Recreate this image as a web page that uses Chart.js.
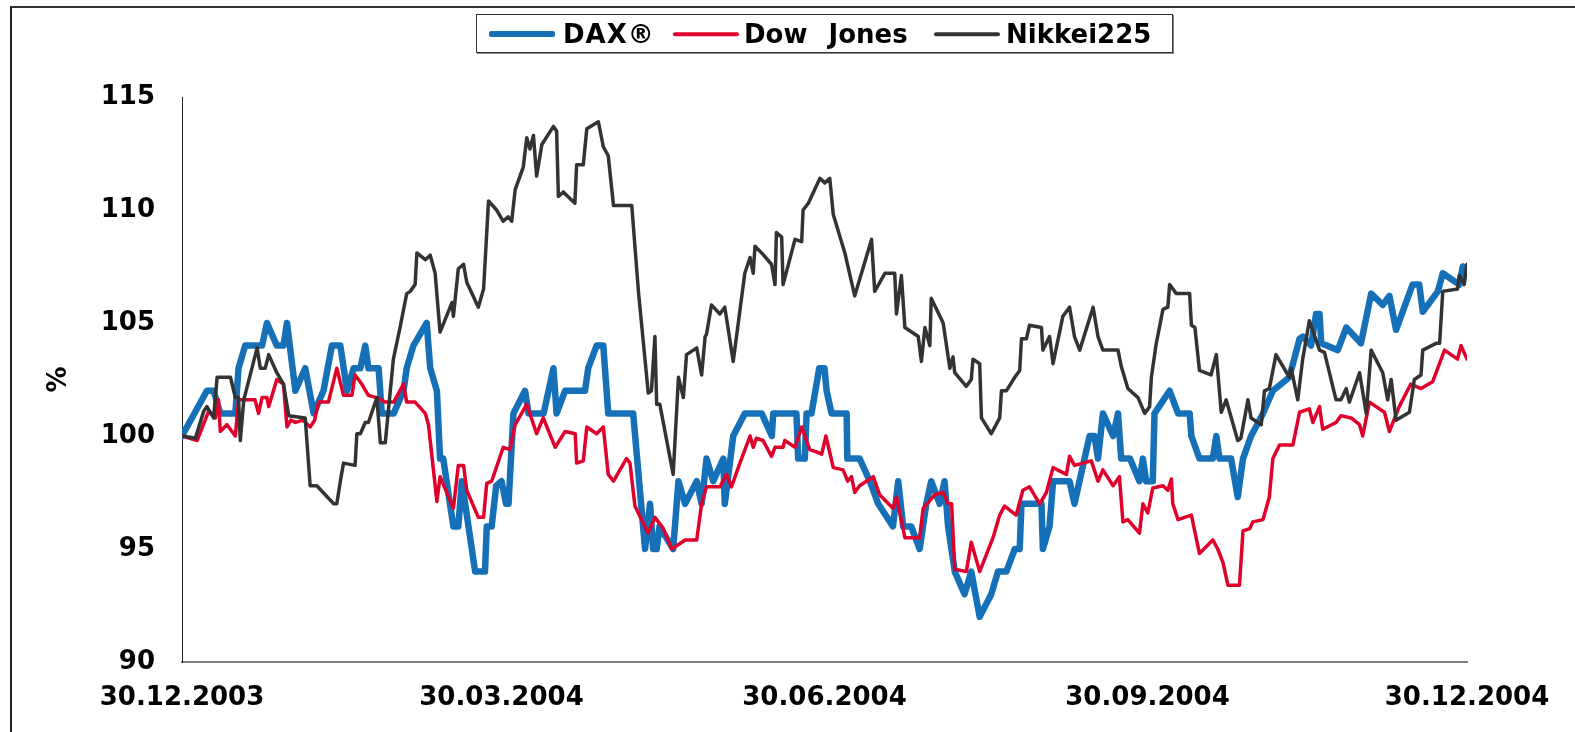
<!DOCTYPE html>
<html lang="de">

<head>
    <meta charset="UTF-8">
    <title>DAX, Dow Jones, Nikkei225 2004</title>
    <script src="https://cdn.jsdelivr.net/npm/chart.js"></script>
    <style>
        * {
            margin: 0;
            padding: 0;
            box-sizing: border-box;
        }

        body {
            width: 1575px;
            height: 732px;
            background: #fff;
            overflow: hidden;
            position: relative;
            font-family: 'DejaVu Sans', sans-serif;
        }

        .frame {
            position: absolute;
            left: 10px;
            top: 6px;
            width: 1600px;
            height: 800px;
            border-top: 2px solid #333;
            border-left: 2px solid #222;
        }

        #chart {
            position: absolute;
            left: 0;
            top: 0;
        }

        .legend {
            position: absolute;
            left: 476px;
            top: 14px;
            width: 697px;
            height: 39px;
            border: 1px solid #333;
            box-shadow: 1px 1px 0 #888;
            background: #fff;
        }

        .legend .swatch {
            position: absolute;
            top: 19px;
            width: 66px;
            transform: translateY(-50%);
            border-radius: 2px;
        }

        .legend .label {
            position: absolute;
            top: 3px;
            font-weight: bold;
            font-size: 26px;
            line-height: 32px;
            color: #000;
            white-space: nowrap;
        }
    </style>
</head>

<body>
    <div class="frame"></div>
    <canvas id="chart" width="1575" height="732"></canvas>
    <div class="legend">
        <span class="swatch" style="left:12px;height:6px;background:#1570b8"></span>
        <span class="label" style="left:86px;letter-spacing:1px">DAX®</span>
        <span class="swatch" style="left:196px;height:3.5px;background:#e0002c"></span>
        <span class="label" style="left:267px;word-spacing:12px">Dow Jones</span>
        <span class="swatch" style="left:457px;height:3.5px;background:#333"></span>
        <span class="label" style="left:529px">Nikkei225</span>
    </div>

    <script>
        // x = days since 30.12.2003, y = index (30.12.2003 = 100)
        const daxDays = [0, 7.1, 9, 10.9, 15.2, 16.1, 18, 22.8, 24.2, 27, 28.9, 29.9, 32.3, 35.1, 37.5, 40.3, 42.7, 45.1, 47, 48.9, 50.8, 52.2, 53.1, 56, 56.9, 60.3, 63.1, 64, 65.9, 69.7, 70.7, 72.6, 73.5, 74.4, 77.3, 78.7, 79.7, 83.5, 86.3, 86.8, 88.2, 89.5, 91, 92.3, 93, 94.4, 97.7, 98.7, 103, 105.8, 106.7, 109.1, 114.8, 115.7, 118.1, 120, 121.4, 128.5, 131.9, 133.3, 134.2, 135.2, 136, 139.9, 141.4, 143.3, 146.6, 148, 149.4, 151.3, 154.2, 154.6, 157, 160.3, 165.1, 168, 168.4, 175, 175.5, 177.4, 177.9, 179.3, 181.5, 183, 183.6, 185, 189.3, 189.5, 193, 195.9, 198.3, 202.5, 204, 205.4, 207.7, 210.1, 212, 213.4, 215.8, 217.2, 218.2, 220.1, 222.9, 224.8, 227.2, 230.5, 232.4, 234.8, 237.2, 238.6, 239.1, 244.8, 245.2, 247.1, 248.1, 252.8, 254.2, 258.5, 259.9, 260.9, 262.3, 265.2, 266.6, 267.5, 270, 272.7, 273.7, 274.6, 276.5, 277, 281.3, 283.7, 287, 287.5, 289.8, 293.6, 294.6, 295.5, 298.8, 300.7, 302.2, 304.5, 307.9, 310.7, 315.4, 318.3, 319.2, 321.6, 323, 324, 324.5, 329.2, 331.6, 335.8, 338.7, 342, 343.9, 345.8, 350.5, 352.4, 353.4, 357.7, 359.1, 363.8, 364.8, 366];
        const daxValues = [100, 102, 102, 101, 101, 103, 104, 104, 105, 104, 104, 105, 102, 103, 101, 102, 104, 104, 102, 103, 103, 104, 103, 103, 101, 101, 102, 103, 104, 105, 103, 102, 99, 99, 96, 96, 98, 94, 94, 96, 96, 97.8, 98, 97, 97, 101, 102, 101, 101, 103, 101, 102, 102, 103, 104, 104, 101, 101, 95, 97, 95, 95, 96, 95, 98, 97, 98, 97, 99, 98, 99, 97, 100, 101, 101, 100, 101, 101, 99, 99, 101, 101, 103, 103, 102, 101, 101, 99, 99, 98, 97, 96, 98, 96, 96, 95, 97, 98, 97, 98, 96, 94, 93, 94, 92, 93, 94, 94, 95, 95, 97, 97, 95, 96, 98, 98, 97, 100, 100, 99, 101, 100, 101, 99, 99, 98, 99, 98, 98, 101, 102, 101, 101, 100, 99, 99, 100, 99, 99, 97.3, 99, 100, 101, 102, 102.6, 104.3, 104.4, 104, 105.4, 105.4, 104.1, 103.8, 104.8, 104.1, 106.3, 105.8, 106.2, 104.7, 106.7, 106.7, 105.5, 106.4, 107.2, 106.7, 107.5, 107.3];

        const dowDays = [0, 4.3, 7.6, 9.5, 10.4, 10.9, 12.8, 15.2, 16.1, 20.8, 21.8, 22.8, 24.2, 24.7, 27, 28.9, 29.9, 31, 32.3, 34.5, 36.5, 37.8, 38.9, 41.7, 44.1, 46, 48.4, 49.3, 51.2, 53.1, 55.5, 57.9, 60.3, 63.1, 64, 66.4, 69.3, 70.2, 72.6, 73.5, 77.3, 78.7, 80.2, 81.1, 84.4, 85.9, 86.8, 88.2, 91.5, 93.4, 94.9, 98.2, 101, 102.9, 106.3, 109.1, 112, 112.4, 114.3, 115.3, 118.1, 120, 121.4, 122.9, 126.6, 127.6, 129, 132.8, 134.7, 137.1, 139.5, 141.4, 143.3, 146.6, 148, 149.4, 153.2, 155.1, 156.5, 158.9, 161.8, 162.7, 163.6, 165.5, 167.9, 168.9, 171.2, 171.7, 174.6, 176.5, 178.8, 180.7, 182.2, 183.4, 185.5, 188.3, 189.6, 190.7, 191.6, 193, 196.9, 198.7, 202.5, 203.5, 205.9, 210.1, 211.1, 214.4, 216.8, 218.2, 219.2, 220.1, 223.4, 224.8, 227.2, 231, 232.9, 234.3, 237.6, 239.5, 241.4, 244.3, 246.2, 248.1, 251.9, 252.8, 254.2, 259, 260.9, 262.3, 265.2, 267, 268, 269.4, 272.7, 273.7, 275.1, 276.5, 279.4, 280.8, 281.8, 282.2, 283.7, 287.5, 289.8, 293.6, 295, 296.5, 297.9, 301.2, 302.2, 304.1, 305, 307.9, 309.7, 310.7, 312.6, 316.4, 318.3, 321.1, 322.1, 324, 324.9, 328.7, 330.1, 333, 335.4, 336.3, 338.2, 342.5, 343.9, 346.7, 350, 352.9, 356.2, 359.6, 363.3, 364.3, 366];
        const dowValues = [100, 99.8, 101.1, 100.8, 101.6, 100.2, 100.5, 100, 101.6, 101.6, 101, 101.7, 101.7, 101.3, 102.5, 102.3, 100.4, 100.7, 100.6, 100.7, 100.4, 100.7, 101.5, 101.5, 103, 101.8, 101.8, 102.7, 102.3, 101.8, 101.7, 101.5, 101.5, 102.3, 101.5, 101.5, 101, 100.5, 97.1, 98.2, 96.8, 98.7, 98.7, 97.6, 96.4, 96.4, 97.9, 98, 99.5, 99.4, 100.5, 101.4, 100.1, 100.8, 99.5, 100.2, 100.1, 98.8, 98.9, 100.4, 100.1, 100.4, 98.3, 98, 99, 98.8, 96.9, 95.7, 96.4, 95.9, 95, 95.2, 95.4, 95.4, 97, 97.75, 97.75, 98.3, 97.75, 98.8, 100, 99.5, 99.9, 99.8, 99.1, 99.5, 99.5, 99.8, 99.5, 100.4, 99.4, 99.3, 99.2, 100, 98.6, 98.5, 98, 98.2, 97.5, 97.8, 98.2, 97.4, 96.8, 97.3, 95.5, 95.5, 96.8, 97.4, 97.5, 97, 97, 94.1, 94, 95.3, 94, 95.5, 96.5, 96.9, 96.5, 97.6, 97.75, 97, 97.5, 98.6, 98.3, 99.1, 98.7, 98.9, 98, 98.5, 97.8, 98.2, 96.2, 96.3, 95.7, 97, 96.6, 97.7, 97.8, 97.6, 98.1, 97, 96.3, 96.5, 94.8, 95.4, 95, 94.4, 93.4, 93.4, 95.8, 95.9, 96.2, 96.3, 97.3, 99, 99.6, 99.6, 101.05, 101.2, 100.6, 101.3, 100.3, 100.6, 100.9, 100.8, 100.5, 100, 101.5, 101.05, 100.2, 101.3, 102.3, 102.1, 102.4, 103.8, 103.4, 104, 103.4];

        const nikkeiDays = [0, 3.8, 6.2, 7.1, 9, 10, 13.8, 15.2, 16.1, 16.6, 17.6, 21.4, 22.3, 23.7, 24.7, 27, 28.9, 30.4, 35.1, 36.5, 38.4, 43.2, 44.1, 45.1, 46, 49.3, 49.8, 50.8, 52.2, 53.1, 55.5, 56.5, 57.9, 60.2, 62.1, 64, 65, 66.4, 66.9, 69.3, 70.7, 72.1, 73.5, 76.9, 77.3, 78.7, 80.2, 81.1, 84.4, 85.9, 87.3, 89.6, 91.5, 92.9, 93.9, 94.9, 97.2, 98.2, 99.1, 100.1, 101, 102.5, 105.8, 106.7, 107.2, 108.6, 111.9, 112.4, 114.3, 115.3, 118.6, 120, 121.4, 122.9, 128.1, 130, 132.8, 133.7, 134.7, 135.2, 136.1, 139.9, 141.4, 142.8, 143.7, 146.6, 148, 149, 149.4, 150.8, 153.2, 154.6, 157, 160.3, 161.8, 162.7, 163.2, 165.1, 167.9, 168.9, 169.3, 170.8, 171.2, 174.6, 176.5, 176.9, 178.4, 181.7, 183.1, 184.5, 185.5, 188.8, 191.6, 196.4, 197.3, 200.2, 203, 203.5, 204.9, 205.9, 209.7, 210.6, 211.6, 213, 213.4, 216.8, 218.7, 219.6, 220.1, 223.4, 224.8, 225.3, 227.2, 227.7, 230.5, 232.9, 233.4, 234.8, 237.2, 238.6, 239.1, 240.5, 241.4, 244.8, 245.2, 247.1, 248.1, 250.9, 252.8, 254.2, 255.7, 259.5, 260.9, 262.3, 266.6, 267.5, 269.4, 272.3, 274.2, 275.6, 276.1, 277.5, 279.4, 280.8, 281.3, 283.2, 287, 287.5, 288.5, 289.8, 293.1, 294.6, 296, 297.4, 300.7, 301.6, 303.6, 304.5, 307.4, 308.3, 309.7, 311.6, 315.4, 315.9, 317.8, 319.2, 321.1, 324, 325.4, 328.7, 330.1, 331.6, 332.5, 335.4, 337.3, 338.7, 342, 343.4, 344.4, 345.8, 349.6, 351, 352.9, 353.4, 357.2, 358.2, 359.1, 363.3, 363.8, 365.2, 366];
        const nikkeiValues = [100, 99.9, 101.1, 101.3, 100.8, 102.6, 102.6, 101.7, 101.7, 99.8, 101.6, 103.9, 103, 103, 103.6, 102.8, 102.3, 100.9, 100.8, 97.8, 97.8, 97, 97, 98, 98.8, 98.7, 100.1, 100.1, 100.6, 100.6, 101.7, 99.7, 99.7, 103.4, 104.8, 106.3, 106.4, 106.7, 108.1, 107.8, 108, 107.2, 104.6, 105.9, 105.3, 107.4, 107.6, 106.8, 105.7, 106.5, 110.4, 110, 109.5, 109.7, 109.5, 110.9, 111.9, 113.2, 112.7, 113.3, 111.5, 112.9, 113.7, 113.5, 110.6, 110.8, 110.3, 112, 112, 113.6, 113.9, 112.8, 112.4, 110.2, 110.2, 106.4, 101.9, 102, 104.4, 101.4, 101.4, 98.3, 102.6, 101.7, 103.6, 103.9, 102.7, 104.4, 104.5, 105.8, 105.4, 105.7, 103.3, 107.2, 107.9, 107.2, 108.4, 108.1, 107.6, 106.7, 109, 108.8, 106.7, 108.7, 108.6, 110, 110.3, 111.4, 111.2, 111.4, 109.8, 108.1, 106.2, 108.7, 106.4, 107.2, 107.2, 105.4, 107.1, 104.8, 104.4, 103.3, 104.8, 104, 106.1, 105, 103, 103.5, 102.8, 102.2, 102.5, 103.4, 103.2, 100.8, 100.1, 100.8, 102, 102, 102.6, 102.9, 104.3, 104.3, 104.9, 104.8, 103.8, 104.4, 103.2, 105.3, 105.7, 104.4, 103.8, 105.7, 104.4, 103.8, 103.8, 103.1, 102.1, 101.7, 101, 101.3, 102.6, 104.1, 105.6, 105.7, 106.7, 106.3, 106.3, 104.9, 104.8, 102.9, 102.7, 103.6, 101.05, 101.6, 99.8, 99.9, 101.6, 100.8, 100.5, 102, 102.1, 103.6, 102.6, 103, 101.6, 103.4, 105.1, 103.8, 103.7, 101.6, 101.6, 102.1, 101.5, 102.8, 101, 103.8, 102.8, 101.6, 102.5, 100.7, 101.05, 102.5, 102.7, 103.8, 104.1, 104.1, 106.4, 106.5, 107.1, 106.7, 107.6];

        const tickDays = [0, 91, 183, 275, 366];
        const tickLabels = ['30.12.2003', '30.03.2004', '30.06.2004', '30.09.2004', '30.12.2004'];
        const yMin = 90, yMax = 115, yStep = 5;

        const toPoints = (days, values) => days.map((d, i) => ({ x: d, y: values[i] }));
        const tickFont = { family: "'DejaVu Sans', sans-serif", size: 26, weight: 'bold' };

        new Chart(document.getElementById('chart'), {
            type: 'line',
            data: {
                datasets: [{
                    label: 'Nikkei225',
                    data: toPoints(nikkeiDays, nikkeiValues),
                    borderColor: '#333333',
                    borderWidth: 3.5,
                    order: 1
                }, {
                    label: 'Dow Jones',
                    data: toPoints(dowDays, dowValues),
                    borderColor: '#e0002c',
                    borderWidth: 3.5,
                    order: 2
                }, {
                    label: 'DAX®',
                    data: toPoints(daxDays, daxValues),
                    borderColor: '#1570b8',
                    borderWidth: 6.5,
                    order: 3
                }]
            },
            options: {
                responsive: false,
                animation: false,
                devicePixelRatio: 1,
                layout: {
                    padding: { left: 10, right: 108, top: 97, bottom: 0 }
                },
                elements: {
                    point: { radius: 0 },
                    line: { tension: 0, borderJoinStyle: 'round', borderCapStyle: 'round', fill: false }
                },
                plugins: {
                    legend: { display: false },
                    tooltip: { enabled: false }
                },
                scales: {
                    x: {
                        type: 'linear',
                        min: tickDays[0],
                        max: tickDays[tickDays.length - 1],
                        grid: { display: false, drawTicks: false },
                        border: { display: true, color: '#808080', width: 2 },
                        afterBuildTicks: (scale) => {
                            scale.ticks = tickDays.map(v => ({ value: v }));
                        },
                        afterFit: (scale) => { scale.height = 70; },
                        ticks: {
                            autoSkip: false,
                            maxRotation: 0,
                            padding: 21,
                            color: '#000',
                            font: tickFont,
                            callback: (value) => tickLabels[tickDays.indexOf(value)]
                        }
                    },
                    y: {
                        min: yMin,
                        max: yMax,
                        grid: { display: false, drawTicks: false },
                        border: { display: true, color: '#222', width: 1 },
                        afterFit: (scale) => { scale.width = 172; },
                        ticks: {
                            stepSize: yStep,
                            padding: 27,
                            color: '#000',
                            font: tickFont
                        },
                        title: {
                            display: true,
                            text: '%',
                            color: '#000',
                            font: tickFont,
                            padding: { top: 34, bottom: 0 }
                        }
                    }
                }
            }
        });
    </script>
</body>

</html>
